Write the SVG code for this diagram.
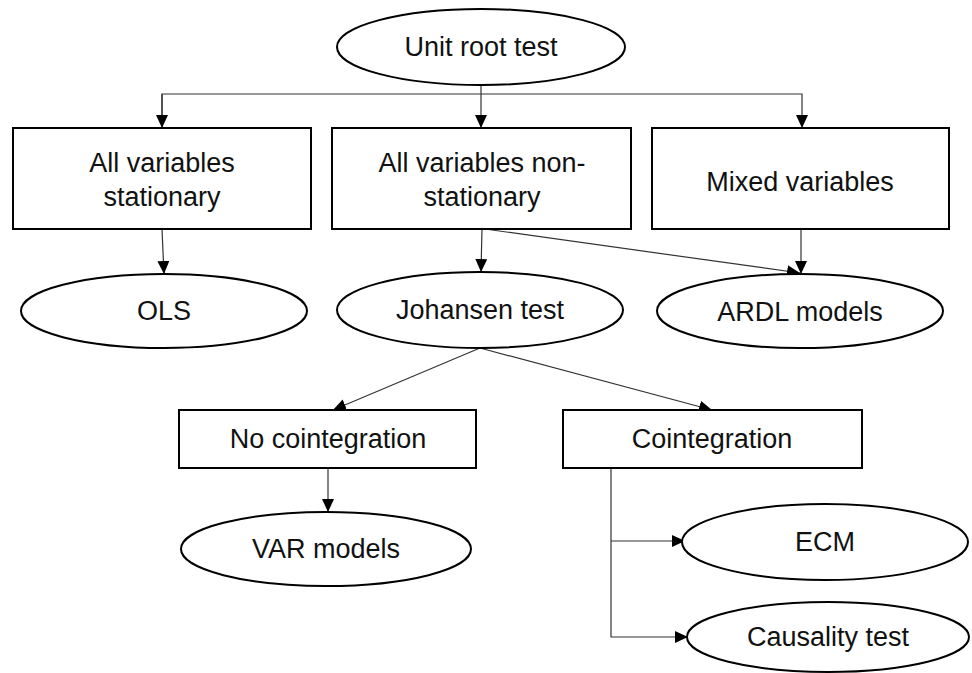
<svg xmlns="http://www.w3.org/2000/svg" width="972" height="673" viewBox="0 0 972 673">
<style>
.n{fill:#fff;stroke:#000;stroke-width:2}
.t{font-family:"Liberation Sans",Arial,sans-serif;font-size:27px;fill:#111;text-anchor:middle}
.c{fill:none;stroke:#333;stroke-width:1.2}
</style>
<defs>
<marker id="a" markerUnits="userSpaceOnUse" markerWidth="14" markerHeight="12" refX="13" refY="6" orient="auto">
<path d="M0,0 L13,6 L0,12 z" fill="#000"/>
</marker>
</defs>
<rect width="972" height="673" fill="#fff"/>
<g id="connectors">
<path class="c" d="M481,85 V128" marker-end="url(#a)"/>
<path class="c" d="M162,128 V94 H802 V128" marker-end="url(#a)"/>
<path class="c" d="M162,94 V128" marker-end="url(#a)"/>
<path class="c" d="M162,229 L164,274" marker-end="url(#a)"/>
<path class="c" d="M482,229 L481,272" marker-end="url(#a)"/>
<path class="c" d="M801,229 L801,274" marker-end="url(#a)"/>
<path class="c" d="M485,229 L800,273" marker-end="url(#a)"/>
<path class="c" d="M480,348 L333,410" marker-end="url(#a)"/>
<path class="c" d="M480,348 L712,410" marker-end="url(#a)"/>
<path class="c" d="M328,468 V512" marker-end="url(#a)"/>
<path class="c" d="M611,468 V637 H688" marker-end="url(#a)"/>
<path class="c" d="M611,541 H685" marker-end="url(#a)"/>
</g>
<g id="unit-root-test"><ellipse class="n" cx="481" cy="47" rx="144" ry="38"/><text class="t" x="481" y="56">Unit root test</text></g>
<g id="all-stationary"><rect class="n" x="13" y="128" width="298" height="101"/><text class="t" x="162" y="172">All variables</text><text class="t" x="162" y="206">stationary</text></g>
<g id="all-nonstationary"><rect class="n" x="332" y="128" width="299" height="101"/><text class="t" x="482" y="172">All variables non-</text><text class="t" x="482" y="206">stationary</text></g>
<g id="mixed"><rect class="n" x="652" y="128" width="297" height="101"/><text class="t" x="800" y="191">Mixed variables</text></g>
<g id="ols"><ellipse class="n" cx="164" cy="311" rx="143" ry="37"/><text class="t" x="164" y="320">OLS</text></g>
<g id="johansen"><ellipse class="n" cx="480" cy="310" rx="143" ry="38"/><text class="t" x="480" y="319">Johansen test</text></g>
<g id="ardl"><ellipse class="n" cx="800" cy="311" rx="143" ry="37"/><text class="t" x="800" y="321">ARDL models</text></g>
<g id="no-cointegration"><rect class="n" x="179" y="410" width="297" height="58"/><text class="t" x="328" y="448">No cointegration</text></g>
<g id="cointegration"><rect class="n" x="563" y="410" width="299" height="58"/><text class="t" x="712" y="448">Cointegration</text></g>
<g id="var"><ellipse class="n" cx="326" cy="549" rx="145" ry="37"/><text class="t" x="326" y="558">VAR models</text></g>
<g id="ecm"><ellipse class="n" cx="825" cy="542" rx="143" ry="38"/><text class="t" x="825" y="551">ECM</text></g>
<g id="causality"><ellipse class="n" cx="828" cy="637" rx="141" ry="35"/><text class="t" x="828" y="646">Causality test</text></g>
</svg>
